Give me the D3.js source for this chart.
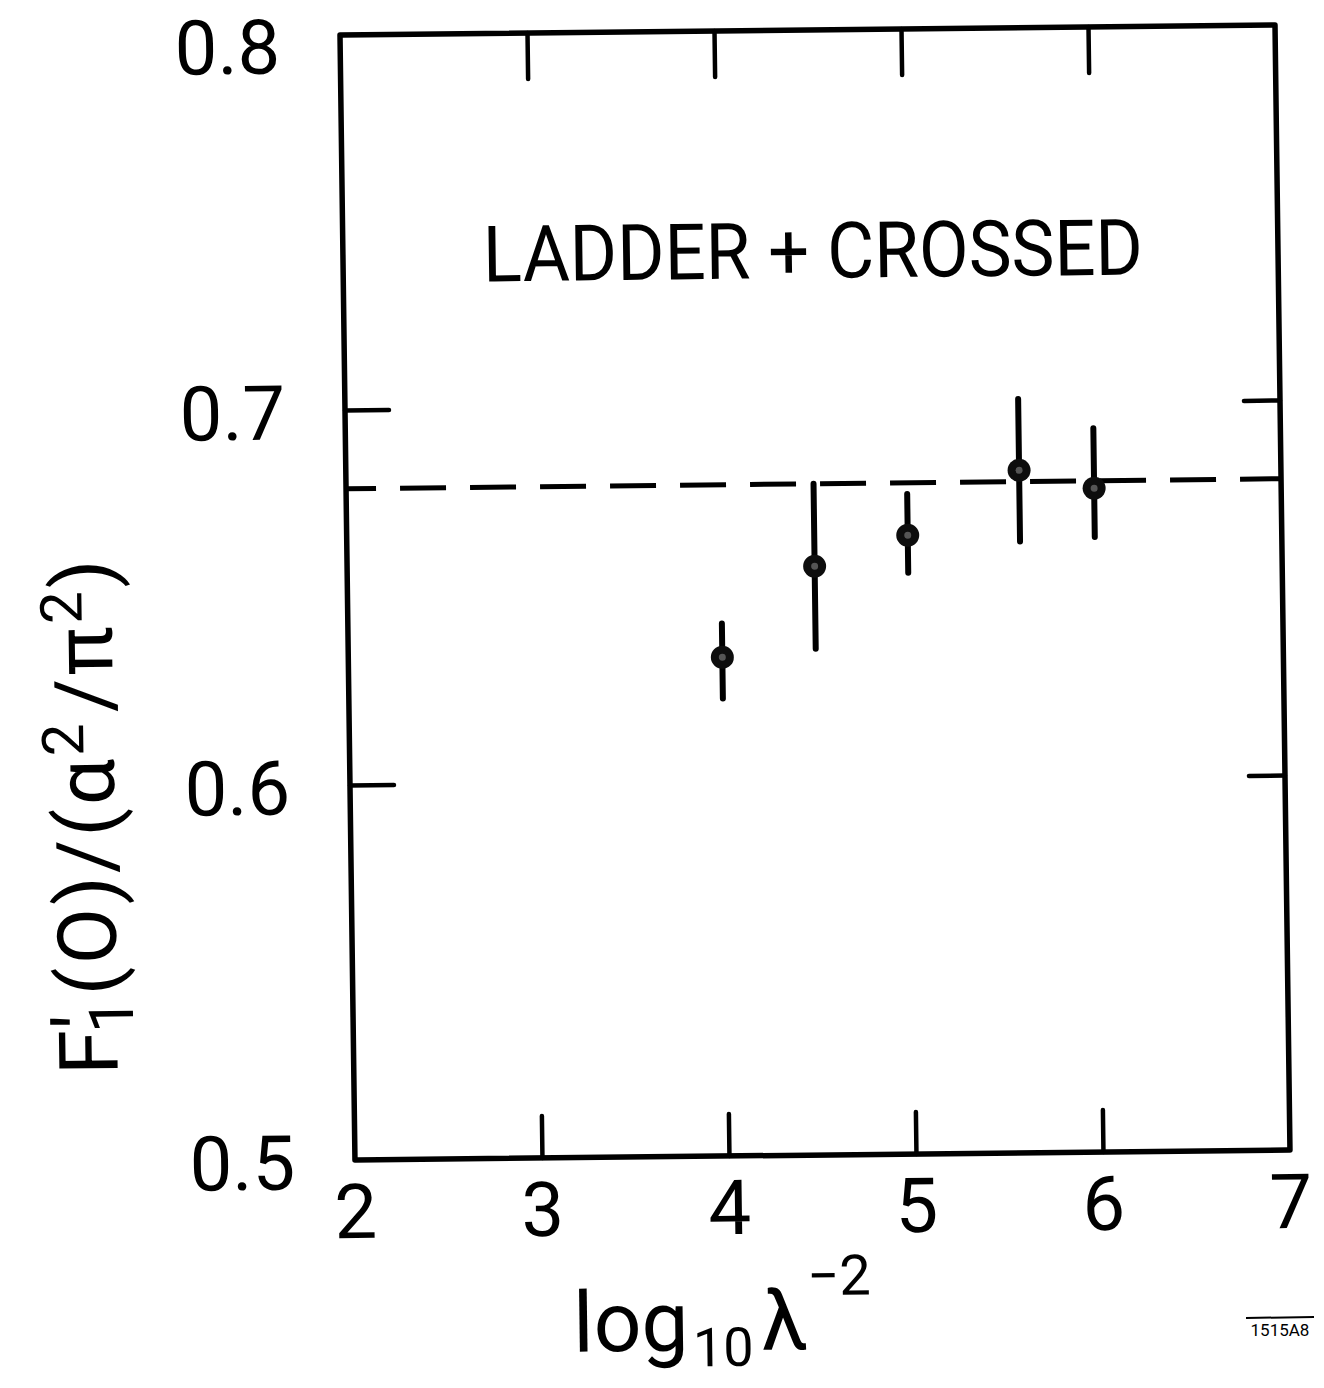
<!DOCTYPE html>
<html>
<head>
<meta charset="utf-8">
<script src="https://cdn.jsdelivr.net/npm/d3@7"></script>
<style>
  html, body { margin: 0; padding: 0; background: #fff; }
  svg text { font-family: Roboto, "Open Sans", "DejaVu Sans", sans-serif; font-weight: 400; fill: #000; }
</style>
</head>
<body>
<svg id="chart" width="1324" height="1388"></svg>
<script>
// ---- data ----
const xValues   = [4.0, 4.5, 5.0, 5.6, 6.0];
const yValues   = [0.633, 0.657, 0.665, 0.682, 0.677];
const errLow    = [0.622, 0.635, 0.655, 0.663, 0.664];
const errHigh   = [0.642, 0.679, 0.676, 0.701, 0.693];
const dashedLevel = 0.679;
const xTickLabels = [2, 3, 4, 5, 6, 7];
const yTickLabels = [0.5, 0.6, 0.7, 0.8];
const innerXTicks = [3, 4, 5, 6];
const innerYTicks = [0.6, 0.7];
const panelLabel = "LADDER + CROSSED";
const figureCode = "1515A8";

// ---- layout ----
const W = 935, H = 1125;
const svg = d3.select("#chart");
// the scanned figure is slightly skewed; reproduce it with a small affine transform
const g = svg.append("g").attr("transform", "matrix(1,-0.0107,0.0133,1,340,35)");

const x = d3.scaleLinear().domain([2, 7]).range([0, W]);
const y = d3.scaleLinear().domain([0.5, 0.8]).range([H, 0]);

const ink = "#000";

// frame
g.append("rect").attr("x", 0).attr("y", 0).attr("width", W).attr("height", H)
  .attr("fill", "none").attr("stroke", ink).attr("stroke-width", 5.5).attr("stroke-linejoin", "round");

// inward ticks via d3 axes
function styleAxis(sel) {
  sel.select(".domain").remove();
  sel.selectAll(".tick line").attr("stroke", ink).attr("stroke-width", 4.5).attr("stroke-linecap", "round");
  sel.selectAll(".tick text").remove();
}
g.append("g").attr("transform", `translate(0,${H})`)
  .call(d3.axisBottom(x).tickValues(innerXTicks).tickSize(-42).tickFormat("")).call(styleAxis);
g.append("g")
  .call(d3.axisTop(x).tickValues(innerXTicks).tickSize(-46).tickFormat("")).call(styleAxis);
g.append("g")
  .call(d3.axisLeft(y).tickValues(innerYTicks).tickSize(-44).tickFormat("")).call(styleAxis);
g.append("g").attr("transform", `translate(${W},0)`)
  .call(d3.axisRight(y).tickValues(innerYTicks).tickSize(-36).tickFormat("")).call(styleAxis);

// tick labels
g.selectAll("text.ylab").data(yTickLabels).enter().append("text")
  .attr("class", "ylab")
  .attr("x", -60).attr("y", d => Math.max(y(d) + 29, 38))
  .attr("text-anchor", "end").attr("font-size", 76)
  .text(d => d.toFixed(1));
g.selectAll("text.xlab").data(xTickLabels).enter().append("text")
  .attr("class", "xlab")
  .attr("x", d => x(d)).attr("y", H + 78)
  .attr("text-anchor", "middle").attr("font-size", 76)
  .text(d => d);

// dashed reference line
g.append("line")
  .attr("x1", x(2)).attr("x2", x(7))
  .attr("y1", y(dashedLevel)).attr("y2", y(dashedLevel))
  .attr("stroke", ink).attr("stroke-width", 5)
  .attr("stroke-dasharray", "46,24").attr("stroke-dashoffset", 16);

// error bars
const pts = xValues.map((xv, i) => ({ x: xv, y: yValues[i], lo: errLow[i], hi: errHigh[i] }));
g.selectAll("line.err").data(pts).enter().append("line")
  .attr("class", "err")
  .attr("x1", d => x(d.x)).attr("x2", d => x(d.x))
  .attr("y1", d => y(d.lo)).attr("y2", d => y(d.hi))
  .attr("stroke", ink).attr("stroke-width", 6).attr("stroke-linecap", "round");

// points
g.selectAll("circle.pt").data(pts).enter().append("circle")
  .attr("class", "pt")
  .attr("cx", d => x(d.x)).attr("cy", d => y(d.y)).attr("r", 11.5)
  .attr("fill", "#0d0d0d");
g.selectAll("circle.ptc").data(pts).enter().append("circle")
  .attr("class", "ptc")
  .attr("cx", d => x(d.x)).attr("cy", d => y(d.y)).attr("r", 3.5)
  .attr("fill", "#555");

// panel label
g.append("text")
  .attr("x", 140).attr("y", 248)
  .attr("font-size", 78)
  .attr("textLength", 660).attr("lengthAdjust", "spacingAndGlyphs")
  .text(panelLabel);

// x-axis title: log10 λ^-2
const xt = g.append("text")
  .attr("x", 216).attr("y", H + 194)
  .attr("text-anchor", "start").attr("font-size", 84);
xt.append("tspan").text("log");
xt.append("tspan").attr("font-size", 54).attr("dy", 16).attr("dx", 4).text("10");
xt.append("tspan").attr("dy", -16).attr("dx", 8).text("λ");
xt.append("tspan").attr("font-size", 56).attr("dy", -54).attr("dx", 0).text("−2");

// y-axis title: F'1(0)/(α²/π²)
const yt = g.append("text")
  .attr("transform", "translate(-236,778) rotate(-90)")
  .attr("text-anchor", "middle").attr("font-size", 82)
  .attr("letter-spacing", 3);
yt.append("tspan").text("F");
yt.append("tspan").attr("font-size", 84).attr("dy", -4).attr("dx", -2).text("′");
yt.append("tspan").attr("font-size", 62).attr("dy", 20).attr("dx", -22).text("1");
yt.append("tspan").attr("dy", -16).text("(O)/(α");
yt.append("tspan").attr("font-size", 58).attr("dy", -30).text("2");
yt.append("tspan").attr("dy", 30).attr("dx", 8).text("/π");
yt.append("tspan").attr("font-size", 58).attr("dy", -30).text("2");
yt.append("tspan").attr("dy", 30).text(")");

// figure code in the corner, with overline
svg.append("line").attr("x1", 1246).attr("x2", 1314).attr("y1", 1318).attr("y2", 1317)
  .attr("stroke", ink).attr("stroke-width", 2);
svg.append("text").attr("x", 1280).attr("y", 1336).attr("text-anchor", "middle")
  .attr("font-size", 17).text(figureCode);
</script>
</body>
</html>
